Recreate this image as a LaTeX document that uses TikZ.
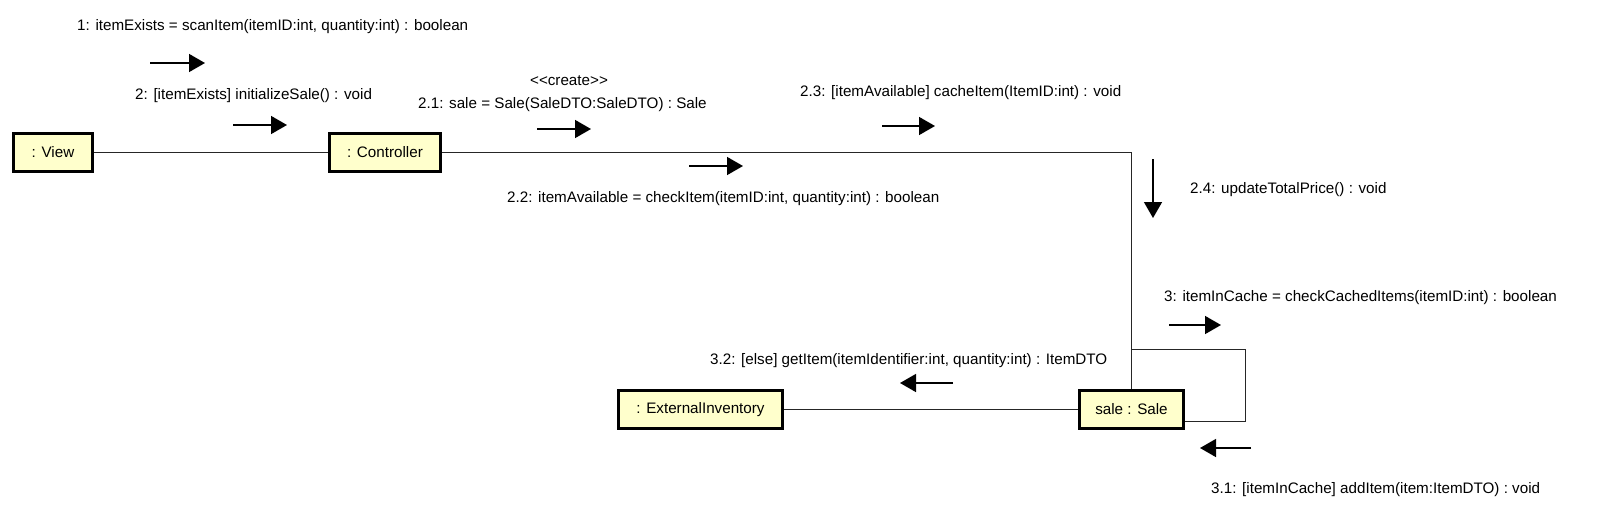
\documentclass[tikz,border=0pt]{standalone}
\usepackage{fontspec}
\setmainfont{Liberation Sans}
\usetikzlibrary{arrows.meta}
\definecolor{boxfill}{RGB}{255,255,204}
\newcommand\umlfont{\fontsize{15.2}{18}\selectfont}
\tikzset{
  obj/.style={draw, line width=3.3pt, fill=boxfill, minimum height=38pt, inner sep=0pt, font=\umlfont},
  link/.style={line width=1pt, draw=black!85},
  msg/.style={line width=1.5pt, -{Triangle[length=16pt,width=18pt]}},
  lbl/.style={anchor=west, inner sep=0pt, font=\umlfont},
}
\begin{document}
\begin{tikzpicture}[x=1pt,y=-1pt]
  \useasboundingbox [fill=white] (0,0) rectangle (1598,509);
  % Objects
  \node [obj, minimum width=79pt] (view) at (53,152.5) {: View};
  \node [obj, minimum width=111pt] (ctrl) at (385,152.5) {: Controller};
  \node [obj, minimum width=164pt] (ext) at (700.5,409.5) {: ExternalInventory};
  \node [obj, minimum width=104pt] (sale) at (1131.5,409.5) {sale : Sale};

  % Links
  \draw [link] (view) -- (ctrl);
  \draw [link] (ctrl.east) -| (sale.north);
  \draw [link] (ext) -- (sale);
  \draw [link] ([yshift=39.5pt]sale.north) -| ([xshift=60.5pt,yshift=-11.5pt]sale.east) -- ([yshift=-11.5pt]sale.east);

  % Messages View -> Controller
  \node [lbl] (m1) at (77,27) {1: itemExists = scanItem(itemID:int, quantity:int) : boolean};
  \draw [msg] (150,63) -- ++(55,0);
  \node [lbl] (m2) at (135,95.5) {2: [itemExists] initializeSale() : void};
  \draw [msg] (233,125) -- ++(54,0);

  % Messages Controller -> Sale
  \node [lbl, anchor=center] (m21s) at (569,80.5) {<{}<create>{}>};
  \node [lbl] (m21) at (418,104.5) {2.1: sale = Sale(SaleDTO:SaleDTO) : Sale};
  \draw [msg] (537,129) -- ++(54,0);
  \node [lbl] (m23) at (800,92.5) {2.3: [itemAvailable] cacheItem(ItemID:int) : void};
  \draw [msg] (882,126) -- ++(53,0);
  \draw [msg] (689,166) -- ++(54,0);
  \node [lbl] (m22) at (507,198.5) {2.2: itemAvailable = checkItem(itemID:int, quantity:int) : boolean};
  \draw [msg] (1153,159) -- ++(0,59);
  \node [lbl] (m24) at (1190,190) {2.4: updateTotalPrice() : void};

  % Messages from Sale
  \node [lbl] (m3) at (1164,298) {3: itemInCache = checkCachedItems(itemID:int) : boolean};
  \draw [msg] (1169,325) -- ++(52,0);
  \node [lbl] (m32) at (710,361) {3.2: [else] getItem(itemIdentifier:int, quantity:int) : ItemDTO};
  \draw [msg] (953,383) -- ++(-53,0);
  \draw [msg] (1251,448) -- ++(-51,0);
  \node [lbl] (m31) at (1211,489.5) {3.1: [itemInCache] addItem(item:ItemDTO) : void};
\end{tikzpicture}
\end{document}
